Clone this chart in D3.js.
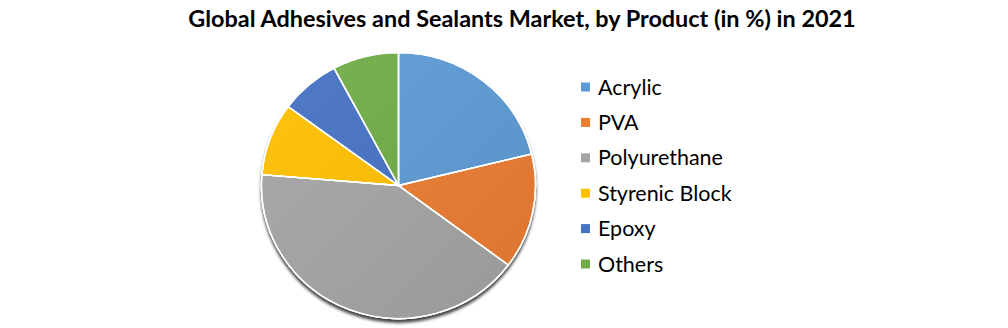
<!DOCTYPE html>
<html>
<head>
<meta charset="utf-8">
<script src="https://cdn.jsdelivr.net/npm/d3@7"></script>
<style>
  body { margin: 0; background: #fff; }
  svg { display: block; }
</style>
</head>
<body>
<div id="chart"><svg width="1008" height="328"></svg></div>
<script>
// data (share in %)
var categories = ['Acrylic', 'PVA', 'Polyurethane', 'Styrenic Block', 'Epoxy', 'Others'];
var shares = [21.2, 14.0, 41.1, 8.8, 7.1, 7.8];
var colours = ['#5b9bd5', '#ed7d31', '#a5a5a5', '#ffc000', '#4472c4', '#70ad47'];
var title = 'Global Adhesives and Sealants Market, by Product (in %) in 2021';

(function() {
    var svg = d3.select('div#chart svg'),
    cx = 398.5,
    cy = 185.5,
    rx = 137,
    ry = 133,
    font = 'Lato, "Open Sans", sans-serif',
    defs,
    pie,
    arc,
    slices,
    wrapper,
    legend,
    rows;

    defs = svg.append('defs');
    // soft shadow under the pie
    defs.append('filter').attr('id', 'shadow')
	.attr('x', '-10%').attr('y', '-10%').attr('width', '120%').attr('height', '120%')
	.append('feDropShadow')
	.attr('dx', 0).attr('dy', 3.5)
	.attr('stdDeviation', 1.6)
	.attr('flood-color', '#000')
	.attr('flood-opacity', 0.75);
    // slight shading from top-left to bottom-right
    var grad = defs.append('linearGradient').attr('id', 'shade')
	.attr('x1', '0%').attr('y1', '0%').attr('x2', '100%').attr('y2', '100%');
    grad.append('stop').attr('offset', '0%').attr('stop-color', '#fff').attr('stop-opacity', 0.06);
    grad.append('stop').attr('offset', '100%').attr('stop-color', '#000').attr('stop-opacity', 0.08);

    // title, sized to the width it has in the picture
    var t = svg.append('text')
	.attr('x', 522).attr('y', 27)
	.attr('text-anchor', 'middle')
	.style('font-family', font)
	.style('font-weight', 'bold')
	.style('font-size', '20px')
	.attr('fill', '#000')
	.text(title);
    t.style('font-size', (20 * 668 / t.node().getComputedTextLength()) + 'px');

    pie = d3.pie().sort(null).value(function(d) { return d; });
    arc = d3.arc().innerRadius(0).outerRadius(rx);

    wrapper = svg.append('g')
	.attr('transform', 'translate(' + cx + ',' + cy + ') scale(1,' + (ry / rx) + ')');

    var body = wrapper.append('g').attr('filter', 'url(#shadow)');
    slices = body.selectAll('path.slice')
	.data(pie(shares))
	.enter().append('path')
	.classed('slice', true)
	.attr('d', arc)
	.attr('fill', function(d, i) { return colours[i]; })
	.attr('stroke', '#fff')
	.attr('stroke-width', 1.4)
	.attr('vector-effect', 'non-scaling-stroke');

    // shading overlay over the whole disc
    wrapper.append('circle')
	.attr('r', rx)
	.attr('fill', 'url(#shade)')
	.attr('pointer-events', 'none');
    // redraw the white separators on top of the overlay
    wrapper.selectAll('path.edge')
	.data(pie(shares))
	.enter().append('path')
	.classed('edge', true)
	.attr('d', arc)
	.attr('fill', 'none')
	.attr('stroke', '#fff')
	.attr('stroke-width', 1.4)
	.attr('vector-effect', 'non-scaling-stroke');

    // legend
    var y = d3.scalePoint().domain(categories).range([87, 264]);
    legend = svg.append('g').classed('legend', true);
    rows = legend.selectAll('g.row')
	.data(categories)
	.enter().append('g')
	.classed('row', true)
	.attr('transform', function(d) { return 'translate(581,' + y(d) + ')'; });
    rows.append('rect')
	.attr('x', 0).attr('y', -4.5)
	.attr('width', 9).attr('height', 9)
	.attr('fill', function(d, i) { return colours[i]; });
    var labels = rows.append('text')
	.attr('x', 17).attr('y', 0)
	.attr('dy', '0.35em')
	.style('font-family', font)
	.style('font-size', '20px')
	.attr('fill', '#000')
	.text(function(d) { return d; });
    // fit the font size to the width of "Polyurethane" in the picture
    var w = labels.filter(function(d) { return d === 'Polyurethane'; }).node().getComputedTextLength();
    labels.style('font-size', (20 * 125 / w) + 'px');
}).call(this);
</script>
</body>
</html>
